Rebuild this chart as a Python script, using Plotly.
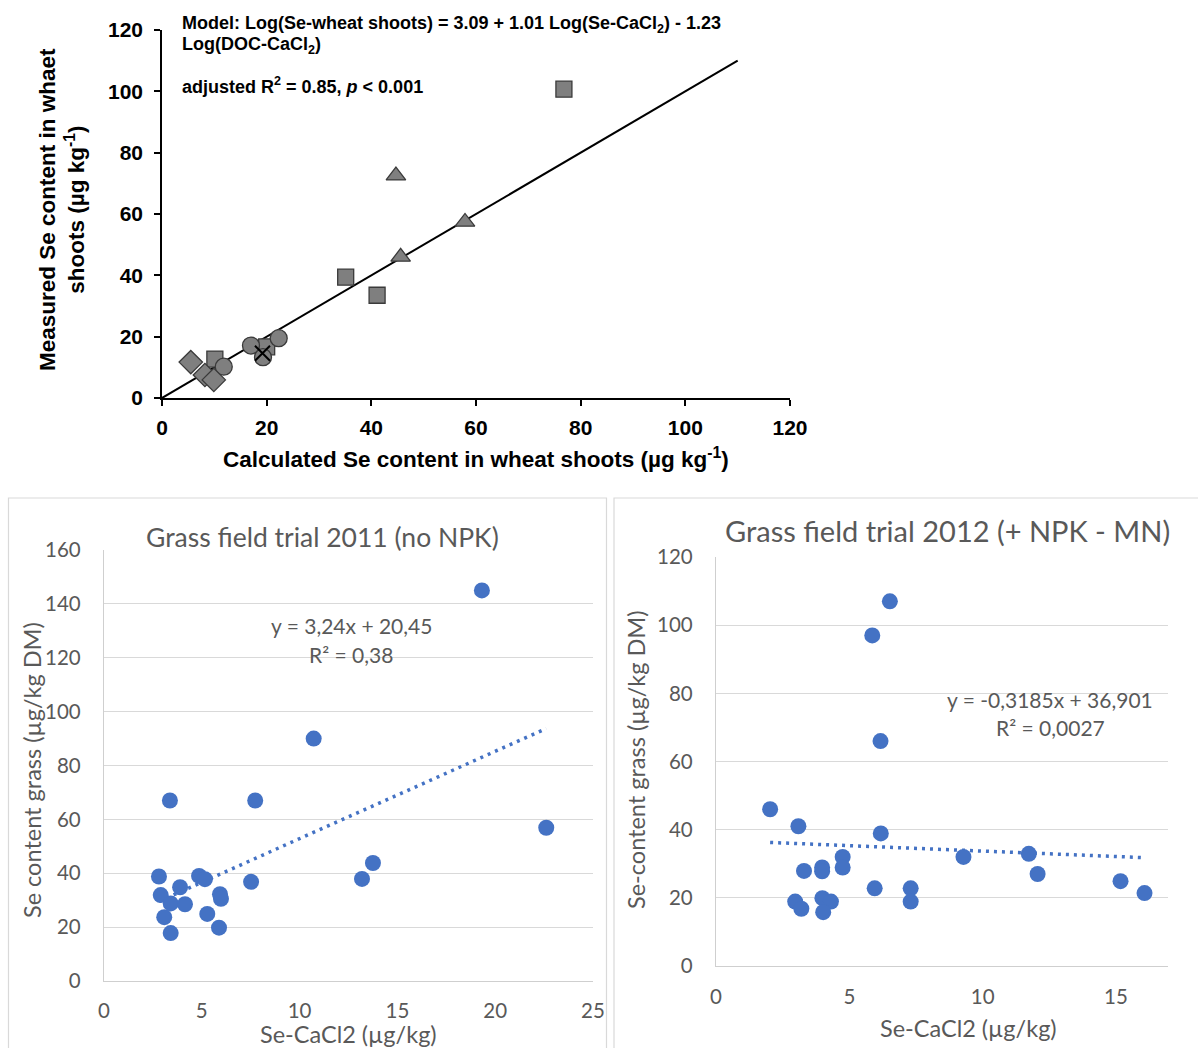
import plotly.graph_objects as go

W, H = 1198, 1048

# ---- Wheat model: calculated vs measured Se (µg/kg) ----
sq_calc = [76.8, 35.1, 41.1, 10.1, 20.0]
sq_meas = [100.7, 39.4, 33.5, 12.7, 16.7]
tri_calc = [44.7, 57.9, 45.6]
tri_meas = [72.5, 57.4, 46.0]
circ_calc = [17.0, 22.3, 11.8, 19.3]
circ_meas = [17.1, 19.5, 10.2, 13.3]
dia_calc = [5.5, 8.2, 9.9]
dia_meas = [11.7, 7.5, 5.9]
x_calc = [19.2]
x_meas = [14.6]
one_to_one = [0, 110]

# ---- Grass field trial 2011 (no NPK) ----
se2011_x = [19.32, 10.72, 3.37, 7.73, 22.61, 13.75, 13.19, 7.52, 2.81, 2.90, 3.89,
            3.41, 4.14, 3.08, 3.41, 4.86, 5.16, 5.28, 5.93, 5.98, 5.88]
se2011_y = [145.0, 90.0, 67.0, 67.0, 56.9, 43.8, 37.9, 36.8, 38.8, 31.9, 34.8,
            28.8, 28.5, 23.7, 17.8, 39.0, 37.8, 24.9, 32.2, 30.5, 19.8]
fit2011_slope, fit2011_icpt = 3.24, 20.45

# ---- Grass field trial 2012 (+ NPK - MN) ----
se2012_x = [6.52, 5.86, 6.17, 2.03, 3.09, 6.18, 9.28, 11.73, 12.06, 15.17, 16.07, 4.75,
            4.75, 3.30, 3.98, 3.98, 5.95, 7.30, 7.30, 2.97, 3.20, 3.99, 4.31, 4.02]
se2012_y = [107.0, 97.0, 66.0, 46.0, 41.0, 38.9, 32.0, 32.9, 27.0, 24.9, 21.4, 32.0,
            28.9, 27.9, 28.9, 27.8, 22.8, 22.8, 18.9, 18.9, 16.8, 19.9, 18.9, 15.8]
fit2012_slope, fit2012_icpt = -0.3185, 36.901


def px(x):
    return x / W


def py(y):
    return 1 - y / H


fig = go.Figure()

# top panel: model fit with 1:1 line
gray_marker = dict(color="#7f7f7f", line=dict(color="#3a3a3a", width=1.3))
fig.add_trace(go.Scatter(x=one_to_one, y=one_to_one, mode="lines",
                         line=dict(color="black", width=2), xaxis="x", yaxis="y"))
for xs, ys, sym, sz in [(sq_calc, sq_meas, "square", 16),
                        (tri_calc, tri_meas, "triangle-up", 17),
                        (circ_calc, circ_meas, "circle", 17),
                        (dia_calc, dia_meas, "diamond", 18)]:
    fig.add_trace(go.Scatter(x=xs, y=ys, mode="markers", xaxis="x", yaxis="y",
                             marker=dict(symbol=sym, size=sz, **gray_marker)))
fig.add_trace(go.Scatter(x=x_calc, y=x_meas, mode="markers", xaxis="x", yaxis="y",
                         marker=dict(symbol="x-thin", size=15,
                                     line=dict(color="black", width=2))))

# bottom panels: grass trials with linear trendlines
blue = "#4472C4"


def trend(xs, slope, icpt):
    xa = [min(xs), max(xs)]
    return xa, [slope * v + icpt for v in xa]


tx, ty = trend(se2011_x, fit2011_slope, fit2011_icpt)
fig.add_trace(go.Scatter(x=tx, y=ty, mode="lines", xaxis="x2", yaxis="y2",
                         line=dict(color=blue, width=3.5, dash="3px,5px")))
fig.add_trace(go.Scatter(x=se2011_x, y=se2011_y, mode="markers", xaxis="x2", yaxis="y2",
                         marker=dict(color=blue, size=16, line=dict(width=0))))

tx, ty = trend(se2012_x, fit2012_slope, fit2012_icpt)
fig.add_trace(go.Scatter(x=tx, y=ty, mode="lines", xaxis="x3", yaxis="y3",
                         line=dict(color=blue, width=3.5, dash="3px,5px")))
fig.add_trace(go.Scatter(x=se2012_x, y=se2012_y, mode="markers", xaxis="x3", yaxis="y3",
                         marker=dict(color=blue, size=16, line=dict(width=0))))

tick_bold = dict(family="Liberation Sans, Arial", size=21, color="black", weight="bold")
title_bold = dict(family="Liberation Sans, Arial", size=22.5, color="black", weight="bold")
top_axis = dict(showgrid=False, zeroline=False, showline=True, linecolor="black",
                linewidth=1.5, ticks="outside", ticklen=6, tickcolor="black",
                tickwidth=1.5, tickfont=tick_bold, dtick=20, range=[0, 120],
                fixedrange=True, automargin=False)

gray_txt = "#595959"
xl = "Lato, Carlito, Calibri"
bottom_axis = dict(gridcolor="#d9d9d9", gridwidth=1.3, zeroline=False,
                   showline=True, linecolor="#cfcfcf", linewidth=1.3, ticks="",
                   tickfont=dict(family=xl, size=20.5, color=gray_txt), fixedrange=True,
                   automargin=False)

fig.update_layout(
    width=W, height=H, margin=dict(l=0, r=0, t=0, b=0, pad=0, autoexpand=False),
    paper_bgcolor="white", plot_bgcolor="white", showlegend=False,
    xaxis=dict(top_axis, domain=[px(162), px(790)], anchor="y", ticklabelstandoff=4),
    yaxis=dict(top_axis, domain=[py(398), py(30)], anchor="x", ticklabelstandoff=7),
    xaxis2=dict(bottom_axis, domain=[px(104), px(593)], anchor="y2", range=[0, 25],
                dtick=5, showgrid=False, ticklabelstandoff=11),
    yaxis2=dict(bottom_axis, domain=[py(981), py(550)], anchor="x2", range=[0, 160],
                dtick=20, showgrid=True, ticklabelstandoff=18),
    xaxis3=dict(bottom_axis, domain=[px(716), px(1168)], anchor="y3", range=[0, 16.95],
                dtick=5, showgrid=False, ticklabelstandoff=12),
    yaxis3=dict(bottom_axis, domain=[py(966), py(557)], anchor="x3", range=[0, 120],
                dtick=20, showgrid=True, ticklabelstandoff=18),
)

# panel frames for the two grass charts
frame = dict(color="#d9d9d9", width=1.2)
fig.add_shape(type="rect", xref="paper", yref="paper", x0=px(8.5), x1=px(606.5),
              y0=py(1060), y1=py(498), line=frame)
fig.add_shape(type="rect", xref="paper", yref="paper", x0=px(614), x1=px(1210),
              y0=py(1060), y1=py(498), line=frame)

ann = []
bold_note = dict(family="Liberation Sans, Arial", size=18, color="black", weight="bold")
ann.append(dict(x=px(180), y=py(24), xanchor="left", yanchor="middle", align="left",
                text="Model: Log(Se-wheat shoots) = 3.09 + 1.01 Log(Se-CaCl<sub>2</sub>) - 1.23",
                font=bold_note))
ann.append(dict(x=px(180), y=py(46), xanchor="left", yanchor="middle", align="left",
                text="Log(DOC-CaCl<sub>2</sub>)", font=bold_note))
ann.append(dict(x=px(180), y=py(86), xanchor="left", yanchor="middle", align="left",
                text="adjusted R<sup>2</sup> = 0.85, <i>p</i> &lt; 0.001", font=bold_note))
ann.append(dict(x=px(62), y=py(210), xanchor="center", yanchor="middle", textangle=-90,
                text="Measured Se content in whaet<br>shoots (µg kg<sup>-1</sup>)",
                font=title_bold))
ann.append(dict(x=px(476), y=py(458), xanchor="center", yanchor="middle",
                text="Calculated Se content in wheat shoots (µg kg<sup>-1</sup>)",
                font=title_bold))

axt_font = dict(family=xl, size=23.5, color=gray_txt)
eq_font = dict(family=xl, size=21, color=gray_txt)

ann.append(dict(x=px(322), y=py(537), text="Grass field trial 2011 (no NPK)",
                font=dict(family=xl, size=26.5, color=gray_txt),
                xanchor="center", yanchor="middle"))
ann.append(dict(x=px(32), y=py(770), text="Se content grass (µg/kg DM)", font=axt_font,
                textangle=-90, xanchor="center", yanchor="middle"))
ann.append(dict(x=px(348), y=py(1034), text="Se-CaCl2 (µg/kg)", font=axt_font,
                xanchor="center", yanchor="middle"))
ann.append(dict(x=px(351), y=py(625), text="y = 3,24x + 20,45", font=eq_font,
                xanchor="center", yanchor="middle"))
ann.append(dict(x=px(351), y=py(654), text="R² = 0,38", font=eq_font,
                xanchor="center", yanchor="middle"))

ann.append(dict(x=px(948), y=py(530), text="Grass field trial 2012 (+ NPK - MN)",
                font=dict(family=xl, size=29, color=gray_txt),
                xanchor="center", yanchor="middle"))
ann.append(dict(x=px(636), y=py(760), text="Se-content grass (µg/kg DM)", font=axt_font,
                textangle=-90, xanchor="center", yanchor="middle"))
ann.append(dict(x=px(968), y=py(1028), text="Se-CaCl2 (µg/kg)", font=axt_font,
                xanchor="center", yanchor="middle"))
ann.append(dict(x=px(1050), y=py(699), text="y = -0,3185x + 36,901", font=eq_font,
                xanchor="center", yanchor="middle"))
ann.append(dict(x=px(1050), y=py(727), text="R² = 0,0027", font=eq_font,
                xanchor="center", yanchor="middle"))

for a in ann:
    a.update(xref="paper", yref="paper", showarrow=False)
fig.update_layout(annotations=ann)

fig.write_html("out.html")
